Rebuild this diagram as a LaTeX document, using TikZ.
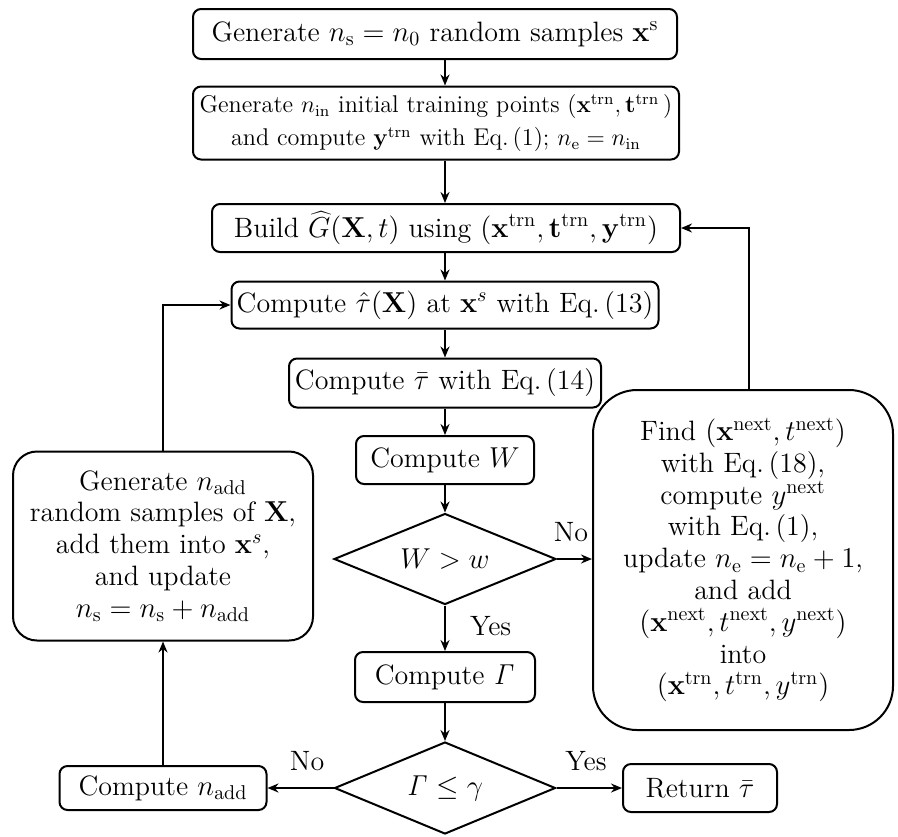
\documentclass[tikz,border=0pt]{standalone}
\usetikzlibrary{shapes.geometric,arrows.meta,calc}
\begin{document}
\begin{tikzpicture}[x=0.5pt,y=-0.5pt,
  every node/.style={font=\fontsize{14}{15.9}\selectfont},
  proc/.style={draw,line width=1pt,rounded corners=4pt,align=center,inner sep=0pt},
  bigbox/.style={draw,line width=1pt,align=center,inner sep=0pt},
  deci/.style={draw,line width=1pt,diamond,aspect=2.4,inner sep=0pt},
  conn/.style={line width=1pt,-{Stealth[length=5.5pt,width=4.5pt]}},
  lbl/.style={inner sep=0pt}]
\useasboundingbox (0,0) rectangle (898,836);
% nodes
\node[proc,minimum width=242pt,minimum height=25pt] (b1) at (435,34)
  {Generate $n_{\mathrm{s}}=n_0$ random samples $\mathbf{x}^{\mathrm{s}}$};
\node[proc,minimum width=243pt,minimum height=36.5pt,font=\fontsize{12.1}{16.5}\selectfont] (b2) at (436,123)
  {Generate $n_{\mathrm{in}}$ initial training points $(\mathbf{x}^{\mathrm{trn}},\mathbf{t}^{\mathrm{trn}}\,)$\\
   and compute $\mathbf{y}^{\mathrm{trn}}$ with Eq.\,(1); $n_{\mathrm{e}}=n_{\mathrm{in}}$};
\node[proc,minimum width=234pt,minimum height=24pt] (b3) at (446,228)
  {Build $\widehat{G}(\mathbf{X},t)$ using $(\mathbf{x}^{\mathrm{trn}},\mathbf{t}^{\mathrm{trn}},\mathbf{y}^{\mathrm{trn}})$};
\node[proc,minimum width=213.5pt,minimum height=23.5pt] (b4) at (445,305)
  {Compute $\hat{\tau}(\mathbf{X})$ at $\mathbf{x}^{s}$ with Eq.\,(13)};
\node[proc,minimum width=156pt,minimum height=24.5pt] (b5) at (445,383)
  {Compute $\bar{\tau}$ with Eq.\,(14)};
\node[proc,minimum width=89pt,minimum height=24pt] (b6) at (445,460)
  {Compute $W$};
\node[deci,minimum width=111pt,minimum height=45.5pt] (d1) at (445,559) {$W>w$};
\node[proc,minimum width=90pt,minimum height=25pt] (b7) at (445,677)
  {Compute $\mathit{\Gamma}$};
\node[deci,minimum width=110.5pt,minimum height=46pt] (d2) at (445,788) {$\mathit{\Gamma}\leq\gamma$};
\node[proc,minimum width=103.5pt,minimum height=22pt] (b8) at (163,788)
  {Compute $n_{\mathrm{add}}$};
\node[proc,minimum width=77pt,minimum height=24pt] (b9) at (700,788)
  {Return $\bar{\tau}$};
\node[bigbox,rounded corners=12pt,minimum width=150pt,minimum height=94.5pt] (L) at (163,546)
  {Generate $n_{\mathrm{add}}$\\ random samples of $\mathbf{X}$,\\ add them into $\mathbf{x}^{s}$,\\
   and update\\ $n_{\mathrm{s}}=n_{\mathrm{s}}+n_{\mathrm{add}}$};
\node[bigbox,rounded corners=22pt,minimum width=150pt,minimum height=170pt] (R) at (743,560)
  {Find $(\mathbf{x}^{\mathrm{next}},t^{\mathrm{next}})$\\ with Eq.\,(18),\\ compute $y^{\mathrm{next}}$\\
   with Eq.\,(1),\\ update $n_{\mathrm{e}}=n_{\mathrm{e}}+1$,\\ and add\\
   $(\mathbf{x}^{\mathrm{next}},t^{\mathrm{next}},y^{\mathrm{next}})$\\ into\\
   $(\mathbf{x}^{\mathrm{trn}},t^{\mathrm{trn}},y^{\mathrm{trn}})$};
% connectors
\draw[conn] (b1.south -| d1) -- (b2.north -| d1);
\draw[conn] (b2.south -| d1) -- (b3.north -| d1);
\draw[conn] (b3.south -| d1) -- (b4.north -| d1);
\draw[conn] (b4.south -| d1) -- (b5.north -| d1);
\draw[conn] (b5.south -| d1) -- (b6.north -| d1);
\draw[conn] (b6.south -| d1) -- (d1.north);
\draw[conn] (d1.south) -- (b7.north) node[lbl,pos=0.45,right=12pt] {Yes};
\draw[conn] (b7.south) -- (d2.north);
\draw[conn] (d1.east) -- (R.west |- d1.east) node[lbl,pos=0.4,above=8pt] {No};
\draw[conn] (R.north -| 749,0) |- (b3.east);
\draw[conn] (d2.west) -- (d2.west -| b8.east) node[lbl,pos=0.4,above=8pt] {No};
\draw[conn] (d2.east) -- (d2.east -| b9.west) node[lbl,pos=0.45,above=8pt] {Yes};
\draw[conn] (b8.north) -- (L.south);
\draw[conn] (L.north) |- (b4.west);
\end{tikzpicture}
\end{document}
